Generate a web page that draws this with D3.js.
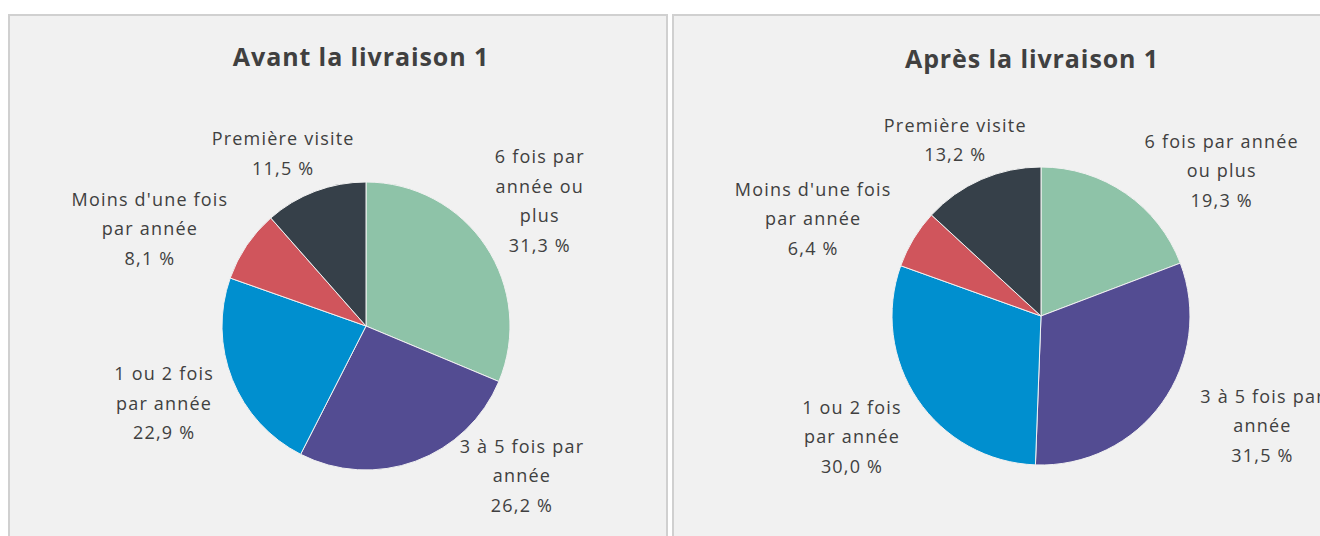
<!DOCTYPE html>
<html lang="fr">
<head>
<meta charset="UTF-8">
<title>Fréquence des visites</title>
<style>
    body { margin: 0; background: #fff; }
    svg { display: block; }
    .panel { fill: #f1f1f1; stroke: #d0d0d0; stroke-width: 2px; }
    .title { font-family: "Open Sans", sans-serif; font-weight: bold; font-size: 25px; letter-spacing: 0.9px; fill: #404040; }
    .label { font-family: "Open Sans", sans-serif; font-size: 18px; letter-spacing: 1.2px; fill: #404040; }
    .slice { stroke: #f1f1f1; stroke-width: 1px; }
</style>
<script src="https://d3js.org/d3.v7.min.js"></script>
</head>
<body>
<script>
    // categories and values
    const categories = ["6 fois par année ou plus", "3 à 5 fois par année", "1 ou 2 fois par année", "Moins d'une fois par année", "Première visite"];
    const avantValues = [31.3, 26.2, 22.9, 8.1, 11.5];
    const apresValues = [19.3, 31.5, 30.0, 6.4, 13.2];
    const titles = ["Avant la livraison 1", "Après la livraison 1"];

    // how each label text is broken into lines (as in the original)
    const avantLines = [["6 fois par", "année ou", "plus"], ["3 à 5 fois par", "année"], ["1 ou 2 fois", "par année"], ["Moins d'une fois", "par année"], ["Première visite"]];
    const apresLines = [["6 fois par année", "ou plus"], ["3 à 5 fois par", "année"], ["1 ou 2 fois", "par année"], ["Moins d'une fois", "par année"], ["Première visite"]];

    const colors = ["#8ec3a8", "#534c92", "#008fcf", "#d0555c", "#364049"];

    const width = 1320, height = 536;
    const svg = d3.select("body").append("svg").attr("width", width).attr("height", height);

    const fmt = v => d3.format(".1f")(v).replace(".", ",") + " %";

    const panels = [
        { x: 9, w: 658, title: titles[0], values: avantValues, lines: avantLines,
          cx: 366, cy: 326, r: 144, titleX: 361, titleY: 66,
          nudge: [[0, -9], [84, -46], [-8, 0], [-43, 20], [-9, 23]] },
        { x: 673, w: 660, title: titles[1], values: apresValues, lines: apresLines,
          cx: 1041, cy: 316, r: 149, titleX: 1032, titleY: 68,
          nudge: [[58, 33], [46, -16], [-10, 0], [-43, 15], [1, 22]] }
    ];

    const pie = d3.pie().sort(null).value(d => d.value);
    const lineH = 29.5;

    panels.forEach(p => {
        const g = svg.append("g");
        g.append("rect").attr("class", "panel")
            .attr("x", p.x).attr("y", 15).attr("width", p.w).attr("height", 560);

        g.append("text").attr("class", "title")
            .attr("x", p.titleX).attr("y", p.titleY)
            .attr("text-anchor", "middle").text(p.title);

        const data = categories.map((c, i) => ({ name: c, value: p.values[i], lines: p.lines[i], i }));
        const arcs = pie(data);
        const arc = d3.arc().innerRadius(0).outerRadius(p.r);
        const labelArc = d3.arc().innerRadius(p.r * 1.45).outerRadius(p.r * 1.45);

        const pg = g.append("g").attr("transform", `translate(${p.cx},${p.cy})`);
        pg.selectAll("path").data(arcs).enter().append("path")
            .attr("class", "slice")
            .attr("d", arc)
            .attr("fill", d => colors[d.data.i]);

        const labels = pg.selectAll("text.label").data(arcs).enter().append("text")
            .attr("class", "label")
            .attr("text-anchor", "middle")
            .attr("transform", d => {
                const [x, y] = labelArc.centroid(d);
                const n = p.nudge[d.data.i];
                return `translate(${x + n[0]},${y + n[1]})`;
            });

        labels.each(function (d) {
            const t = d3.select(this);
            const rows = d.data.lines.concat([fmt(d.data.value)]);
            const y0 = -(rows.length - 1) * lineH / 2;
            rows.forEach((row, k) => {
                t.append("tspan").attr("x", 0).attr("y", y0 + k * lineH).attr("dy", "0.35em").text(row);
            });
        });
    });
</script>
</body>
</html>
